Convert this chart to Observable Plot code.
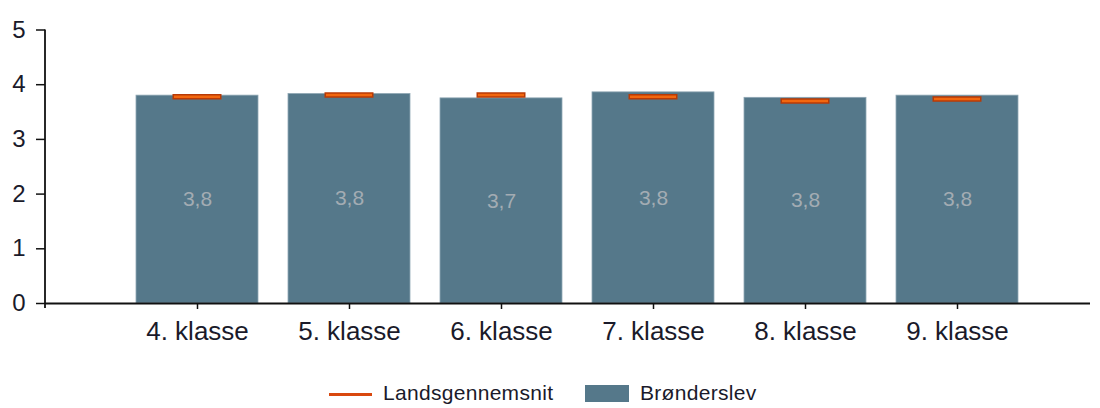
<!DOCTYPE html>
<html>
<head>
<meta charset="utf-8">
<script src="https://cdn.jsdelivr.net/npm/d3@7"></script>
<script src="https://cdn.jsdelivr.net/npm/@observablehq/plot@0.6"></script>
<style>
  html, body { margin: 0; padding: 0; background: #fff; }
  body { width: 1100px; height: 408px; position: relative; overflow: hidden; font-family: "Liberation Sans", Arial, sans-serif; }
  #chart { position: absolute; left: 0; top: 0; }
  .legend { position: absolute; top: 381px; left: 0; width: 1100px; height: 26px; font-size: 21px; color: #1a1a2a; }
  .legend .sw-line { position: absolute; left: 329px; top: 12px; width: 43px; height: 3px; background: #d9480f; }
  .legend .lbl1 { position: absolute; left: 383px; top: 0px; letter-spacing: 0.3px; }
  .legend .sw-rect { position: absolute; left: 585px; top: 4px; width: 44px; height: 17px; background: #55788a; }
  .legend .lbl2 { position: absolute; left: 640px; top: 0px; letter-spacing: 0.3px; }
</style>
</head>
<body>
<div id="chart"></div>
<div class="legend">
  <div class="sw-line"></div><div class="lbl1" id="l1"></div>
  <div class="sw-rect"></div><div class="lbl2" id="l2"></div>
</div>
<script>
const categories = ["4. klasse", "5. klasse", "6. klasse", "7. klasse", "8. klasse", "9. klasse"];
const bronderslev = [3.80, 3.83, 3.75, 3.86, 3.76, 3.80];
const valueLabels = ["3,8", "3,8", "3,7", "3,8", "3,8", "3,8"];
const landsgennemsnit = [3.78, 3.81, 3.81, 3.78, 3.70, 3.74];
const yTicks = [0, 1, 2, 3, 4, 5];
const seriesNames = ["Landsgennemsnit", "Brønderslev"];

document.getElementById("l1").textContent = seriesNames[0];
document.getElementById("l2").textContent = seriesNames[1];

const data = categories.map((c, i) => ({
  klasse: c,
  value: bronderslev[i],
  avg: landsgennemsnit[i],
  label: valueLabels[i]
}));

const plot = Plot.plot({
  width: 1100,
  height: 360,
  marginLeft: 45,
  marginRight: 10,
  marginTop: 29.5,
  marginBottom: 57,
  style: { fontFamily: "'Liberation Sans', Arial, sans-serif", color: "#1a1a2a", background: "#fff", overflow: "visible" },
  x: { domain: categories, range: [119, 1034], paddingInner: 0.2, paddingOuter: 0.1, label: null },
  y: { domain: [0, 5], label: null },
  marks: [
    Plot.barY(data, { x: "klasse", y: "value", fill: "#55788a", stroke: "#8fa7b4", strokeWidth: 0.8 }),
    Plot.text(data, { x: "klasse", y: d => d.value / 2, text: "label", fill: "#a3acb3", fontSize: 21 }),
    Plot.tickY(data, { x: "klasse", y: "avg", stroke: "#b83a06", strokeWidth: 5.5, insetLeft: 36.5, insetRight: 36.5 }),
    Plot.tickY(data, { x: "klasse", y: "avg", stroke: "#f2670f", strokeWidth: 2.5, insetLeft: 38, insetRight: 38 }),
    Plot.ruleY([0], { stroke: "#111", strokeWidth: 1.8 }),
    Plot.axisY({ ticks: yTicks, tickSize: 9, tickPadding: 11, fontSize: 24, stroke: "#111", strokeWidth: 1.5, tickFormat: d => String(d) }),
    Plot.axisX({ tickSize: 6, tickPadding: 12, fontSize: 26, stroke: "#111", strokeWidth: 1.5, letterSpacing: 0.4 })
  ]
});

// y axis domain line
const ys = plot.scale("y");
d3.select(plot).append("line")
  .attr("x1", 45).attr("x2", 45)
  .attr("y1", ys.apply(5)).attr("y2", ys.apply(0) + 5)
  .attr("stroke", "#111").attr("stroke-width", 1.8);

document.getElementById("chart").appendChild(plot);
</script>
</body>
</html>
